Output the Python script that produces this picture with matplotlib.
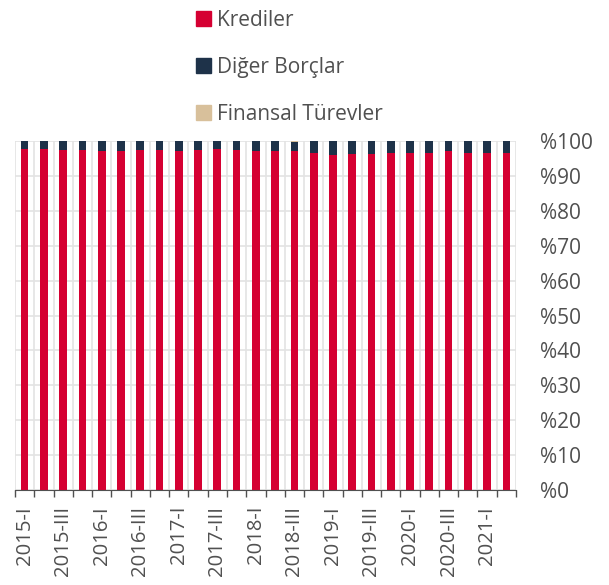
import matplotlib
matplotlib.use('Agg')
import matplotlib.pyplot as plt
from matplotlib.patches import Patch
import numpy as np

plt.rcParams['font.family'] = ['Open Sans', 'DejaVu Sans']

quarters = [f"{y}-{q}" for y in range(2015, 2022) for q in ("I", "II", "III", "IV")][:26]
krediler = [97.6, 97.6, 97.5, 97.5, 97.1, 97.1, 97.5, 97.3, 97.1, 97.3, 97.6, 97.5, 97.1,
            97.1, 97.0, 96.6, 96.1, 96.3, 96.3, 96.5, 96.5, 96.5, 97.0, 96.5, 96.5, 96.7]
turevler = [0.1, 0.1, 0.1, 0.1, 0.1, 0.1, 0.1, 0.1, 0.1, 0.1, 0.1, 0.1, 0.1,
            0.1, 0.2, 0.1, 0.1, 0.1, 0.1, 0.1, 0.1, 0.1, 0.1, 0.1, 0.1, 0.1]
diger = [100 - k - t for k, t in zip(krediler, turevler)]

c_kred, c_dig, c_tur = '#D50032', '#1E3249', '#D8C09B'
grey = '#505050'

fig = plt.figure(figsize=(6.09, 5.85), dpi=100)
ax = fig.add_axes([15/609, 95/585, 501/609, 349/585])

x = np.arange(len(quarters))
w = 0.4
ax.bar(x, krediler, w, color=c_kred, zorder=3)
ax.bar(x, diger, w, bottom=krediler, color=c_dig, zorder=3)
ax.bar(x, turevler, w, bottom=np.array(krediler) + np.array(diger), color=c_tur, zorder=3)

ax.set_xlim(-0.5, len(quarters) - 0.5)
ax.set_ylim(0, 100)

ax.set_xticks(np.arange(-0.5, len(quarters)), labels=[])
ax.set_xticks(x[::2], labels=quarters[::2], minor=True)
ax.tick_params(axis='x', which='major', length=5, color=grey, width=1)
ax.tick_params(axis='x', which='minor', length=0, pad=11.5, labelsize=14.6,
               labelcolor=grey, labelrotation=90)

ax.set_yticks(np.arange(0, 101, 10), labels=[f"%{v}" for v in range(0, 101, 10)])
ax.yaxis.tick_right()
ax.tick_params(axis='y', length=0, pad=17, labelsize=15, labelcolor=grey)

ax.grid(True, which='major', color='#e3e3e3', linewidth=1.2, zorder=0)
for s in ('top', 'left', 'right'):
    ax.spines[s].set_visible(False)
ax.spines['bottom'].set_color(grey)
ax.spines['bottom'].set_zorder(4)

handles = [Patch(color=c_kred, label='Krediler'),
           Patch(color=c_dig, label='Diğer Borçlar'),
           Patch(color=c_tur, label='Finansal Türevler')]
fig.legend(handles=handles, loc='upper left', bbox_to_anchor=(183/609, 1.005),
           frameon=False, fontsize=15, labelcolor=grey, handlelength=0.72,
           handleheight=0.72, handletextpad=0.3, labelspacing=1.25, borderpad=0.1)

fig.savefig('out.png', dpi=100)
